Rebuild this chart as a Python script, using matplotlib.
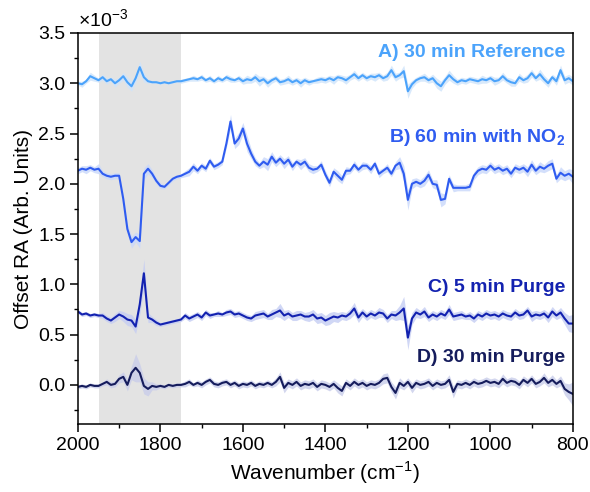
import numpy as np
import matplotlib.pyplot as plt
from matplotlib.ticker import MultipleLocator

plt.rcParams['font.family'] = ['Liberation Sans', 'DejaVu Sans']
plt.rcParams['mathtext.fontset'] = 'custom'
plt.rcParams['mathtext.rm'] = 'Liberation Sans'
plt.rcParams['mathtext.bf'] = 'Liberation Sans:bold'

# wavenumber grid, 2000 -> 800 cm-1 every 10
wn = list(range(2000, 799, -10))

# offset reflectance-absorbance (x1e-3)
ref_30 = [3.00, 2.99, 3.02, 3.07, 3.05, 3.03, 3.06, 3.02, 3.04, 3.00,
          3.03, 3.07, 3.01, 2.97, 3.05, 3.16, 3.06, 3.02, 3.01, 3.01,
          3.00, 3.01, 3.00, 3.01, 3.02, 3.02, 3.03, 3.04, 3.05, 3.04,
          3.06, 3.03, 3.05, 3.02, 3.05, 3.03, 3.06, 3.04, 3.03, 3.05,
          3.02, 3.04, 3.03, 3.06, 3.02, 3.04, 3.00, 3.03, 3.05, 3.01,
          3.02, 3.04, 3.01, 3.03, 3.00, 3.03, 3.01, 3.02, 3.03, 3.04,
          3.03, 3.05, 3.03, 3.06, 3.05, 3.03, 3.06, 3.09, 3.05, 3.08,
          3.05, 3.07, 3.06, 3.08, 3.05, 3.07, 3.13, 3.06, 3.08, 3.12,
          2.92, 2.99, 3.03, 3.05, 3.06, 3.03, 3.05, 3.00, 2.97, 3.03,
          3.08, 3.04, 3.01, 3.03, 3.02, 3.04, 3.03, 3.02, 3.04, 3.03,
          3.05, 3.02, 3.03, 3.07, 3.03, 3.01, 3.00, 3.06, 3.03, 3.05,
          3.10, 3.05, 3.09, 3.04, 3.00, 3.06, 3.02, 3.13, 3.03, 3.05,
          3.02]
no2_60 = [2.13, 2.15, 2.14, 2.16, 2.14, 2.15, 2.10, 2.08, 2.07, 2.08,
          2.08, 1.85, 1.55, 1.42, 1.47, 1.43, 2.10, 2.15, 2.10, 2.03,
          1.98, 1.97, 2.01, 2.05, 2.07, 2.08, 2.10, 2.12, 2.17, 2.13,
          2.18, 2.15, 2.23, 2.17, 2.19, 2.22, 2.40, 2.62, 2.40, 2.45,
          2.55, 2.40, 2.30, 2.22, 2.18, 2.22, 2.19, 2.27, 2.21, 2.25,
          2.20, 2.24, 2.17, 2.22, 2.19, 2.22, 2.16, 2.14, 2.15, 2.19,
          2.09, 2.01, 2.12, 2.08, 2.04, 2.13, 2.13, 2.19, 2.14, 2.18,
          2.18, 2.14, 2.20, 2.10, 2.13, 2.16, 2.10, 2.18, 2.21, 2.10,
          1.84, 2.00, 2.02, 2.00, 2.03, 2.09, 2.00, 1.99, 1.84, 1.85,
          2.05, 1.96, 1.96, 1.96, 1.96, 1.97, 2.08, 2.13, 2.15, 2.14,
          2.18, 2.14, 2.16, 2.13, 2.15, 2.10, 2.16, 2.14, 2.16, 2.12,
          2.19, 2.13, 2.17, 2.15, 2.18, 2.20, 2.05, 2.11, 2.08, 2.10,
          2.07]
purge_5 = [0.73, 0.70, 0.71, 0.69, 0.70, 0.69, 0.69, 0.66, 0.64, 0.67,
           0.70, 0.68, 0.65, 0.64, 0.58, 0.80, 1.11, 0.67, 0.65, 0.62,
           0.60, 0.61, 0.62, 0.63, 0.64, 0.65, 0.69, 0.66, 0.68, 0.70,
           0.67, 0.72, 0.69, 0.70, 0.71, 0.70, 0.72, 0.73, 0.70, 0.71,
           0.69, 0.67, 0.66, 0.69, 0.70, 0.71, 0.68, 0.70, 0.72, 0.74,
           0.69, 0.71, 0.68, 0.69, 0.70, 0.68, 0.68, 0.70, 0.66, 0.67,
           0.64, 0.66, 0.68, 0.67, 0.69, 0.68, 0.71, 0.76, 0.67, 0.72,
           0.68, 0.71, 0.69, 0.72, 0.71, 0.66, 0.70, 0.69, 0.72, 0.76,
           0.47, 0.66, 0.72, 0.70, 0.73, 0.67, 0.70, 0.68, 0.71, 0.69,
           0.75, 0.68, 0.69, 0.70, 0.68, 0.69, 0.66, 0.70, 0.68, 0.71,
           0.69, 0.70, 0.68, 0.71, 0.69, 0.68, 0.72, 0.69, 0.70, 0.74,
           0.68, 0.70, 0.69, 0.71, 0.67, 0.73, 0.69, 0.72, 0.66, 0.61,
           0.61]
purge_30 = [-0.02, -0.01, -0.02, 0.00, -0.01, -0.01, 0.01, 0.03, 0.00, 0.01,
            0.06, 0.08, 0.00, 0.12, 0.17, 0.12, -0.01, -0.04, -0.01, -0.02,
            -0.01, -0.02, 0.00, -0.01, 0.00, 0.00, 0.01, 0.03, 0.00, 0.02,
            0.00, 0.03, 0.05, 0.01, 0.00, 0.02, 0.03, 0.00, 0.02, -0.01,
            0.01, 0.00, 0.02, -0.01, 0.01, 0.00, 0.02, 0.00, 0.03, 0.08,
            -0.03, 0.02, 0.00, 0.03, -0.01, 0.01, 0.00, 0.02, -0.02, 0.01,
            0.00, -0.02, 0.01, -0.03, -0.06, 0.02, -0.01, 0.03, 0.00, 0.02,
            -0.01, 0.01, 0.00, 0.02, 0.06, 0.07, -0.02, -0.08, 0.02, -0.01,
            0.03, -0.03, 0.02, 0.00, 0.01, 0.03, -0.01, 0.02, 0.00, 0.01,
            0.05, -0.07, 0.01, 0.00, 0.02, 0.00, 0.03, 0.01, 0.02, 0.04,
            0.02, 0.03, 0.01, 0.06, 0.02, 0.04, 0.03, 0.00, 0.05, 0.02,
            0.06, 0.01, 0.03, 0.07, 0.02, 0.05, 0.01, 0.04, -0.04, -0.07,
            -0.09]

# half-width of the shaded spread
spread_ref = [0.02, 0.03, 0.02, 0.04, 0.03, 0.02, 0.03, 0.03, 0.02, 0.04,
              0.03, 0.04, 0.05, 0.05, 0.04, 0.06, 0.05, 0.02, 0.01, 0.01,
              0.01, 0.01, 0.01, 0.01, 0.01, 0.02, 0.02, 0.02, 0.03, 0.02,
              0.03, 0.02, 0.03, 0.02, 0.03, 0.02, 0.03, 0.03, 0.02, 0.03,
              0.03, 0.04, 0.03, 0.04, 0.05, 0.03, 0.04, 0.03, 0.03, 0.03,
              0.03, 0.04, 0.03, 0.03, 0.04, 0.03, 0.03, 0.02, 0.03, 0.03,
              0.03, 0.03, 0.04, 0.03, 0.03, 0.04, 0.03, 0.04, 0.03, 0.03,
              0.03, 0.03, 0.04, 0.03, 0.03, 0.04, 0.05, 0.04, 0.03, 0.06,
              0.07, 0.04, 0.03, 0.03, 0.04, 0.03, 0.04, 0.05, 0.05, 0.04,
              0.05, 0.04, 0.03, 0.03, 0.03, 0.03, 0.03, 0.03, 0.04, 0.03,
              0.03, 0.04, 0.03, 0.04, 0.03, 0.04, 0.03, 0.04, 0.03, 0.04,
              0.04, 0.03, 0.05, 0.04, 0.04, 0.03, 0.04, 0.05, 0.04, 0.04,
              0.04]
spread_no2 = [0.03, 0.03, 0.04, 0.03, 0.03, 0.05, 0.03, 0.03, 0.03, 0.03,
              0.03, 0.05, 0.05, 0.06, 0.05, 0.07, 0.06, 0.05, 0.04, 0.03,
              0.03, 0.02, 0.02, 0.02, 0.02, 0.02, 0.03, 0.04, 0.04, 0.03,
              0.03, 0.03, 0.03, 0.03, 0.03, 0.03, 0.04, 0.07, 0.05, 0.06,
              0.06, 0.08, 0.05, 0.04, 0.03, 0.05, 0.06, 0.05, 0.04, 0.04,
              0.05, 0.04, 0.04, 0.03, 0.05, 0.04, 0.04, 0.04, 0.03, 0.04,
              0.04, 0.04, 0.04, 0.05, 0.04, 0.04, 0.03, 0.04, 0.03, 0.04,
              0.03, 0.04, 0.03, 0.04, 0.03, 0.04, 0.03, 0.04, 0.06, 0.08,
              0.10, 0.05, 0.04, 0.04, 0.05, 0.05, 0.04, 0.05, 0.07, 0.05,
              0.04, 0.04, 0.03, 0.03, 0.03, 0.04, 0.04, 0.04, 0.04, 0.04,
              0.04, 0.04, 0.04, 0.04, 0.04, 0.04, 0.04, 0.04, 0.04, 0.05,
              0.05, 0.04, 0.05, 0.04, 0.05, 0.05, 0.04, 0.06, 0.05, 0.05,
              0.07]
spread_p5 = [0.02, 0.02, 0.02, 0.02, 0.02, 0.02, 0.03, 0.03, 0.03, 0.04,
             0.04, 0.05, 0.06, 0.06, 0.07, 0.10, 0.14, 0.05, 0.03, 0.03,
             0.02, 0.02, 0.02, 0.02, 0.02, 0.02, 0.03, 0.03, 0.03, 0.03,
             0.03, 0.03, 0.03, 0.02, 0.03, 0.02, 0.03, 0.03, 0.03, 0.03,
             0.03, 0.03, 0.03, 0.04, 0.04, 0.04, 0.03, 0.05, 0.04, 0.07,
             0.05, 0.04, 0.04, 0.05, 0.04, 0.04, 0.05, 0.05, 0.05, 0.05,
             0.05, 0.06, 0.05, 0.05, 0.04, 0.04, 0.05, 0.06, 0.05, 0.04,
             0.04, 0.04, 0.04, 0.05, 0.04, 0.04, 0.04, 0.05, 0.07, 0.12,
             0.12, 0.06, 0.05, 0.04, 0.05, 0.04, 0.04, 0.04, 0.04, 0.04,
             0.05, 0.04, 0.04, 0.04, 0.03, 0.04, 0.04, 0.04, 0.04, 0.04,
             0.04, 0.04, 0.04, 0.04, 0.04, 0.04, 0.04, 0.04, 0.04, 0.04,
             0.05, 0.04, 0.04, 0.04, 0.05, 0.05, 0.04, 0.05, 0.06, 0.08,
             0.09]
spread_p30 = [0.02, 0.02, 0.02, 0.02, 0.02, 0.02, 0.02, 0.03, 0.03, 0.03,
              0.04, 0.05, 0.06, 0.07, 0.14, 0.09, 0.08, 0.07, 0.04, 0.03,
              0.02, 0.02, 0.02, 0.02, 0.02, 0.02, 0.03, 0.03, 0.02, 0.03,
              0.03, 0.03, 0.03, 0.03, 0.03, 0.03, 0.03, 0.03, 0.03, 0.03,
              0.03, 0.03, 0.03, 0.03, 0.03, 0.03, 0.03, 0.03, 0.04, 0.05,
              0.05, 0.04, 0.04, 0.04, 0.04, 0.04, 0.04, 0.04, 0.04, 0.04,
              0.04, 0.04, 0.04, 0.05, 0.05, 0.04, 0.04, 0.04, 0.04, 0.04,
              0.04, 0.04, 0.04, 0.04, 0.05, 0.05, 0.05, 0.06, 0.05, 0.04,
              0.04, 0.05, 0.04, 0.04, 0.04, 0.04, 0.04, 0.04, 0.04, 0.04,
              0.05, 0.06, 0.04, 0.04, 0.04, 0.04, 0.04, 0.04, 0.04, 0.04,
              0.04, 0.04, 0.04, 0.05, 0.04, 0.04, 0.04, 0.04, 0.04, 0.04,
              0.04, 0.04, 0.04, 0.05, 0.04, 0.05, 0.04, 0.05, 0.06, 0.08,
              0.12]

labels = ['A) 30 min Reference', 'B) 60 min with NO$_\\mathbf{2}$',
          'C) 5 min Purge', 'D) 30 min Purge']
label_y = [3.31, 2.46, 0.97, 0.27]
colors = ['#4ba3fb', '#2f5cf0', '#1322b0', '#151c5c']
shade = ['#cfe4fb', '#c9d8fb', '#c5cdf3', '#c9cdea']

series = [ref_30, no2_60, purge_5, purge_30]
spreads = [spread_ref, spread_no2, spread_p5, spread_p30]

fig = plt.figure(figsize=(5.9, 4.92), dpi=100)
ax = fig.add_axes([0.132, 0.138, 0.839, 0.795])

# highlighted region
ax.axvspan(1950, 1750, color='#e3e3e3', lw=0, zorder=0)

x = np.array(wn)
for y, s, c, sc, lab, ly in zip(series, spreads, colors, shade, labels, label_y):
    y = np.array(y)
    s = np.array(s)
    ax.fill_between(x, y - s, y + s, color=sc, alpha=0.8, lw=0, zorder=1)
    ax.plot(x, y, color=c, lw=1.5, zorder=2)
    ax.text(818, ly, lab, color=c, fontsize=14, fontweight='bold',
            ha='right', va='center')

ax.set_xlim(2000, 800)
ax.set_ylim(-0.39, 3.5)
ax.xaxis.set_major_locator(MultipleLocator(200))
ax.xaxis.set_minor_locator(MultipleLocator(100))
ax.yaxis.set_major_locator(MultipleLocator(0.5))
ax.yaxis.set_minor_locator(MultipleLocator(0.25))
ax.tick_params(which='major', length=5.5, width=1.1, labelsize=14)
ax.tick_params(which='minor', length=3, width=1.0)
for sp in ax.spines.values():
    sp.set_linewidth(1.1)

ax.set_xlabel('Wavenumber (cm$^{-1}$)', fontsize=15)
ax.set_ylabel('Offset RA (Arb. Units)', fontsize=15)
ax.text(0.0, 1.005, '\u00d710$^{-3}$', transform=ax.transAxes,
        fontsize=14, ha='left', va='bottom')

fig.savefig('out.png', dpi=100)
